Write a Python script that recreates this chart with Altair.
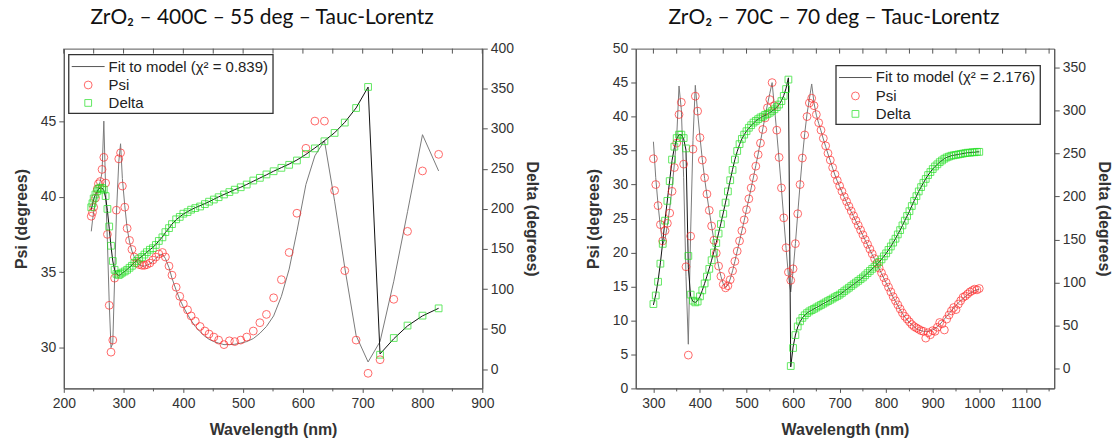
import altair as alt
import pandas as pd

FONT = "Liberation Sans"
TITLE_FONT = "Lato"
RED = "#ff2a2a"
GREEN = "#22e022"
FRAME = "#555555"

# ---------------- left panel: ZrO2, 400C, 55 deg ----------------
wl_a = [246, 248, 250, 253, 256, 258, 261, 264, 267, 270,
        273, 276, 279, 282, 285, 288, 292, 295, 298, 302,
        306, 310, 314, 318, 322, 326, 331, 335, 339, 344,
        349, 354, 359, 365, 370, 376, 381, 388, 394, 400,
        407, 413, 420, 428, 436, 443, 451, 459, 468, 477,
        486, 496, 506, 517, 528, 539, 551, 564, 577, 590,
        605, 620, 636, 653, 670, 689, 709, 729, 752, 775,
        800, 827]
psi_a = [38.7, 38.95, 39.3, 39.9, 40.5, 40.85, 41.0, 41.8, 42.6, 40.9,
         37.5, 32.8, 29.7, 30.5, 34.6, 39.1, 42.5, 42.9, 40.7, 39.3,
         37.9, 37.1, 36.5, 36.0, 35.6, 35.5, 35.45, 35.45, 35.5, 35.6,
         35.8, 36.0, 36.2, 36.3, 36.0, 35.4, 34.8, 34.0, 33.4, 32.9,
         32.5, 32.1, 31.75, 31.4, 31.1, 30.9, 30.7, 30.5, 30.2, 30.45,
         30.4, 30.5, 30.7, 31.1, 31.65, 32.2, 33.3, 34.5, 36.3, 38.9,
         43.2, 45.0, 45.0, 40.4, 35.1, 30.5, 28.3, 29.2, 33.2, 37.7,
         41.7, 42.8]
psi_fit_a = [37.7, 38.4, 39.0, 39.6, 40.2, 40.6, 41.0, 41.6, 45.0, 40.5,
             37.0, 33.0, 30.0, 30.3, 34.5, 38.8, 42.3, 43.5, 41.2, 39.4,
             37.9, 37.0, 36.4, 36.0, 35.7, 35.5, 35.4, 35.4, 35.45, 35.55,
             35.7, 35.9, 36.1, 36.2, 35.9, 35.3, 34.6, 33.8, 33.2, 32.7,
             32.2, 31.8, 31.4, 31.05, 30.75, 30.55, 30.4, 30.3, 30.2, 30.2,
             30.22, 30.3, 30.4, 30.6, 30.95, 31.4, 32.1, 33.4, 35.2, 37.7,
             40.8, 42.7, 43.7, 39.7, 35.3, 30.8, 29.05, 30.4, 34.4, 39.0,
             44.1, 41.7]
delta_a = [202, 207, 213, 218, 222, 225, 226.5, 226, 224, 216,
           200, 178, 154, 135, 124, 119, 117.5, 119, 120.5, 122,
           124, 126.5, 129, 132.5, 135, 138, 140, 143, 146, 149,
           151, 155, 160, 164.5, 171, 176, 181, 187, 190, 194,
           196, 199, 201, 203, 206, 209, 211.7, 214.6, 218, 221,
           224, 227, 230.4, 235.4, 238.75, 243, 247, 251.25, 255, 260.4,
           268.5, 275.5, 284.4, 294.8, 307.7, 325.9, 352.2, 18, 38.9, 54.4,
           66.8, 75.9]
delta_fit_a = [199, 206, 212, 218, 222, 224.5, 226, 226, 223, 214,
               198, 176, 153, 135, 124, 119, 117, 118, 120, 122,
               124.5, 127, 130, 133, 135.5, 138, 141, 143.5, 146, 149,
               152, 155.5, 160, 165, 170.5, 176, 181, 186.5, 190, 193.5,
               196.5, 199, 201.5, 204, 206.5, 209, 212, 215, 218, 221,
               224, 227, 230.5, 234.5, 238.5, 242.5, 247, 251.5, 256, 261,
               268, 276, 285, 295, 308, 326, 352, 19, 38, 54,
               66.5, 76]

# ---------------- right panel: ZrO2, 70C, 70 deg ----------------
wl_b = [300, 305, 310, 315, 320, 325, 330, 335, 340, 345,
        350, 355, 360, 365, 370, 375, 380, 385, 390, 395,
        400, 405, 410, 415, 420, 425, 430, 435, 440, 445,
        450, 455, 460, 465, 470, 475, 480, 485, 490, 495,
        500, 505, 510, 515, 520, 525, 530, 535, 540, 545,
        550, 555, 560, 565, 570, 575, 580, 585, 590, 595,
        600, 605, 610, 615, 620, 625, 630, 635, 640, 645,
        650, 655, 660, 665, 670, 675, 680, 685, 690, 695,
        700, 705, 710, 715, 720, 725, 730, 735, 740, 745,
        750, 755, 760, 765, 770, 775, 780, 785, 790, 795,
        800, 805, 810, 815, 820, 825, 830, 835, 840, 845,
        850, 855, 860, 865, 870, 875, 880, 885, 890, 895,
        900, 905, 910, 915, 920, 925, 930, 935, 940, 945,
        950, 955, 960, 965, 970, 975, 980, 985, 990, 995,
        1000]
psi_b = [33.8, 30.0, 26.9, 24.1, 21.7, 23.2, 24.3, 25.8, 29.0, 32.5,
         36.1, 40.3, 42.1, 33.0, 17.9, 4.9, 22.4, 35.2, 43.0, 40.8,
         36.9, 33.6, 31.0, 28.6, 26.2, 23.9, 21.8, 19.9, 18.0, 16.5,
         15.3, 14.8, 15.1, 16.0, 17.3, 18.7, 20.2, 21.7, 23.2, 24.8,
         26.3, 27.9, 29.5, 31.0, 32.7, 34.4, 36.1, 38.1, 39.8, 41.3,
         42.5, 45.0, 41.6, 38.0, 34.0, 29.5, 25.1, 20.7, 17.1, 15.9,
         17.6, 21.3, 25.7, 30.0, 33.9, 37.3, 40.0, 42.0, 42.7, 41.6,
         40.3, 39.1, 38.0, 36.8, 35.7, 34.6, 33.6, 32.5, 31.5, 30.6,
         29.8, 29.0, 28.2, 27.5, 26.8, 26.1, 25.4, 24.7, 24.0, 23.3,
         22.6, 21.9, 21.2, 20.5, 19.8, 19.1, 18.4, 17.7, 17.0, 16.3,
         15.6, 14.9, 14.2, 13.5, 12.9, 12.3, 11.7, 11.1, 10.6, 10.2,
         9.8, 9.4, 9.1, 8.9, 8.7, 8.5, 8.4, 7.4, 8.2, 7.9,
         8.5, 8.4, 9.0, 9.7, 9.5, 8.6, 10.2, 10.8, 11.4, 11.9,
         11.6, 12.4, 12.9, 13.4, 13.6, 13.9, 14.2, 14.4, 14.6, 14.5,
         14.7]
psi_fit_b = [36.3, 31.0, 27.0, 23.8, 21.2, 22.0, 24.0, 26.5, 29.5, 33.0,
             37.0, 44.5, 41.0, 31.0, 16.5, 6.5, 23.0, 36.5, 44.6, 40.6,
             37.0, 33.7, 30.9, 28.4, 26.1, 23.9, 21.8, 19.8, 18.0, 16.5,
             15.4, 14.9, 15.2, 16.1, 17.3, 18.7, 20.2, 21.7, 23.2, 24.7,
             26.3, 27.9, 29.5, 31.1, 32.8, 34.5, 36.3, 38.2, 40.0, 41.8,
             43.4, 45.0, 41.4, 37.6, 33.6, 29.4, 25.0, 20.6, 16.6, 14.2,
             17.2, 21.3, 25.7, 30.0, 34.0, 37.5, 40.4, 42.6, 44.8, 42.0,
             40.2, 39.0, 37.9, 36.7, 35.6, 34.5, 33.5, 32.4, 31.4, 30.5,
             29.7, 28.9, 28.1, 27.4, 26.7, 26.0, 25.3, 24.6, 23.9, 23.2,
             22.5, 21.8, 21.1, 20.4, 19.7, 19.0, 18.3, 17.6, 16.9, 16.2,
             15.5, 14.8, 14.1, 13.4, 12.8, 12.2, 11.6, 11.0, 10.5, 10.1,
             9.7, 9.4, 9.1, 8.8, 8.6, 8.5, 8.4, 8.4, 8.4, 8.5,
             8.6, 8.8, 9.1, 9.4, 9.8, 10.2, 10.6, 11.0, 11.4, 11.8,
             12.2, 12.6, 12.9, 13.2, 13.5, 13.8, 14.0, 14.2, 14.4, 14.5,
             14.6]
delta_b = [75, 85, 101, 122, 145, 172, 195, 218, 243, 258,
           268, 272, 272, 268, 256, 131, 86, 79, 77, 78,
           84, 91, 99, 107, 116, 126, 135, 146, 157, 168,
           180, 193, 206, 219, 231, 243, 253, 261, 267, 272,
           276, 280, 283, 286, 288, 290, 292, 293, 295, 296,
           297.5, 299.5, 301.5, 304, 307, 311, 317, 325, 336, 3,
           24, 39, 49, 55, 59, 62, 64.5, 66.5, 68, 69.5,
           71, 72.5, 74, 75.5, 77, 78.5, 80, 81.5, 83, 84.5,
           86, 88, 90, 92, 94, 96, 98, 100, 102, 104,
           106, 108.5, 111, 113.5, 116, 118.5, 121, 124, 127, 130.5,
           134, 138, 142, 146.5, 151, 156, 161, 166.5, 172, 177.5,
           183, 189, 195, 200.5, 206, 211, 216, 220.5, 225, 228.5,
           232, 235, 237.5, 240, 242, 244, 245.5, 246.5, 247.5, 248,
           248.5, 249, 249.5, 250, 250.5, 251, 251, 251.5, 251.5, 252,
           252]
delta_fit_b = [74, 86, 102, 123, 147, 173, 196, 219, 242, 257,
               267, 272, 272, 267, 254, 118, 84, 78, 77, 79,
               84, 91, 99, 107.5, 116.5, 126, 136, 146.5, 157.5, 169,
               181, 193.5, 206, 219, 231.5, 243, 252.5, 260.5, 267, 272,
               276, 279.5, 282.5, 285.5, 288, 290, 291.5, 293, 294.5, 296,
               297.5, 299.5, 301.5, 304, 307, 311.5, 317.5, 326, 338, 2,
               25, 39, 48.5, 54.5, 59, 62, 64.5, 66.5, 68, 69.5,
               71, 72.5, 74, 75.5, 77, 78.5, 80, 81.5, 83, 84.5,
               86, 88, 90, 92, 94, 96, 98, 100, 102, 104,
               106, 108.5, 111, 113.5, 116, 118.5, 121, 124, 127, 130.5,
               134, 138, 142, 146.5, 151, 156, 161, 166.5, 172, 177.5,
               183, 189, 195, 200.5, 206, 211, 216, 220.5, 225, 228.5,
               232, 235, 237.5, 240, 242, 244, 245.5, 246.5, 247.5, 248,
               248.5, 249, 249.5, 250, 250.5, 251, 251, 251.5, 251.5, 252,
               252]

W, H = 420, 341
LEG_W, LEG_H = 205, 59


def panel(title, wl, psi, dlt, psi_fit, dlt_fit, x_dom, x_major, x_minor,
          psi_dom, psi_ticks, d_dom, d_ticks, chi_label, box):
    pts_psi = pd.DataFrame({"wl": wl, "v": psi})
    pts_dlt = pd.DataFrame({"wl": wl, "v": dlt})
    fit_psi = pd.DataFrame({"wl": wl, "v": psi_fit})
    fit_dlt = pd.DataFrame({"wl": wl, "v": dlt_fit})
    minor = pd.DataFrame({"wl": x_minor})
    top = pd.DataFrame({"wl": x_major + x_minor})
    one = pd.DataFrame({"k": [0]})

    title_style = dict(titleFont=FONT, titleFontSize=16, titleFontWeight="bold",
                       titleColor="#333")
    label_style = dict(labelFontSize=14, labelFont=FONT, labelColor="#333",
                       domainColor=FRAME, tickColor=FRAME, grid=False)

    xs = alt.Scale(domain=x_dom, nice=False, zero=False)
    xaxis = alt.Axis(values=x_major, format="d", title="Wavelength (nm)",
                     tickSize=4, labelPadding=4, titlePadding=11,
                     labelFlush=False, **title_style, **label_style)
    X = alt.X("wl:Q", scale=xs, axis=xaxis)

    psi_axis = alt.Axis(values=psi_ticks, title="Psi (degrees)", orient="left",
                        tickSize=5, labelPadding=3, titlePadding=11,
                        **title_style, **label_style)
    d_axis = alt.Axis(values=d_ticks, title="Delta (degrees)", orient="right",
                      tickSize=5, labelPadding=3, titlePadding=10,
                      **title_style, **label_style)
    ps = alt.Scale(domain=psi_dom, nice=False, zero=False)
    ds = alt.Scale(domain=d_dom, nice=False, zero=False)

    l_psi_fit = alt.Chart(fit_psi).mark_line(color="#7a7a7a", strokeWidth=1).encode(
        x=X, y=alt.Y("v:Q", scale=ps, axis=psi_axis))
    l_psi = alt.Chart(pts_psi).mark_point(shape="circle", filled=False, color=RED,
                                          size=62, strokeWidth=1).encode(
        x=X, y=alt.Y("v:Q", scale=ps, axis=None))
    l_dlt_fit = alt.Chart(fit_dlt).mark_line(color="#111111", strokeWidth=1).encode(
        x=X, y=alt.Y("v:Q", scale=ds, axis=d_axis))
    l_dlt = alt.Chart(pts_dlt).mark_point(shape="square", filled=False, color=GREEN,
                                          size=46, strokeWidth=1).encode(
        x=X, y=alt.Y("v:Q", scale=ds, axis=None))

    # minor ticks below the bottom axis, and inward ticks along the top edge
    l_minor = alt.Chart(minor).mark_rule(color=FRAME, strokeWidth=1).encode(
        x=X, y=alt.value(H), y2=alt.value(H + 3))
    l_top = alt.Chart(top).mark_rule(color=FRAME, strokeWidth=1).encode(
        x=X, y=alt.value(0), y2=alt.value(5))

    bx0, by0 = box
    l_box = alt.Chart(one).mark_rect(fill="white", stroke="#333333", strokeWidth=1.3).encode(
        x=alt.value(bx0), x2=alt.value(bx0 + LEG_W),
        y=alt.value(by0), y2=alt.value(by0 + LEG_H))
    l_sample = alt.Chart(one).mark_rule(color="#555555", strokeWidth=1).encode(
        x=alt.value(bx0 + 3), x2=alt.value(bx0 + 36), y=alt.value(by0 + 12))
    l_c = alt.Chart(one).mark_point(shape="circle", filled=False, color=RED,
                                    size=62, strokeWidth=1).encode(
        x=alt.value(bx0 + 19.5), y=alt.value(by0 + 30.5))
    l_s = alt.Chart(one).mark_point(shape="square", filled=False, color=GREEN,
                                    size=46, strokeWidth=1).encode(
        x=alt.value(bx0 + 19.5), y=alt.value(by0 + 48.5))
    txt = dict(align="left", baseline="middle", font=FONT, fontSize=15, color="#222")
    l_t1 = alt.Chart(one).mark_text(**txt).encode(
        x=alt.value(bx0 + 40), y=alt.value(by0 + 12), text=alt.value(chi_label))
    l_t2 = alt.Chart(one).mark_text(**txt).encode(
        x=alt.value(bx0 + 40), y=alt.value(by0 + 30.5), text=alt.value("Psi"))
    l_t3 = alt.Chart(one).mark_text(**txt).encode(
        x=alt.value(bx0 + 40), y=alt.value(by0 + 48.5), text=alt.value("Delta"))

    return alt.layer(
        l_psi_fit, l_dlt_fit, l_psi, l_dlt, l_minor, l_top,
        l_box, l_sample, l_c, l_s, l_t1, l_t2, l_t3
    ).resolve_scale(y="independent").properties(
        width=W, height=H,
        title=alt.TitleParams(title, font=TITLE_FONT, fontSize=21,
                              fontWeight="normal", color="#111",
                              anchor="middle", dx=-11, offset=14))


left = panel("ZrO\u2082 \u2013 400C \u2013 55 deg \u2013 Tauc-Lorentz",
             wl_a, psi_a, delta_a, psi_fit_a, delta_fit_a,
             [200, 900], [200, 300, 400, 500, 600, 700, 800, 900],
             [250, 350, 450, 550, 650, 750, 850],
             [27.3, 49.8], [30, 35, 40, 45],
             [-24, 400], [0, 50, 100, 150, 200, 250, 300, 350, 400],
             "Fit to model (\u03c7\u00b2 = 0.839)", (5, 6))

right = panel("ZrO\u2082 \u2013 70C \u2013 70 deg \u2013 Tauc-Lorentz",
              wl_b, psi_b, delta_b, psi_fit_b, delta_fit_b,
              [262, 1161], [300, 400, 500, 600, 700, 800, 900, 1000, 1100],
              [350, 450, 550, 650, 750, 850, 950, 1050, 1150],
              [0, 50], [0, 5, 10, 15, 20, 25, 30, 35, 40, 45, 50],
              [-23, 372], [0, 50, 100, 150, 200, 250, 300, 350],
              "Fit to model (\u03c7\u00b2 = 2.176)", (201, 17))

chart = alt.hconcat(left, right, spacing=154, bounds="flush").configure_view(
    stroke=FRAME, strokeWidth=1
).properties(padding={"left": 12, "top": 5, "right": 5, "bottom": 5})

chart.save("out.html", embed_options={"renderer": "svg", "actions": False})
